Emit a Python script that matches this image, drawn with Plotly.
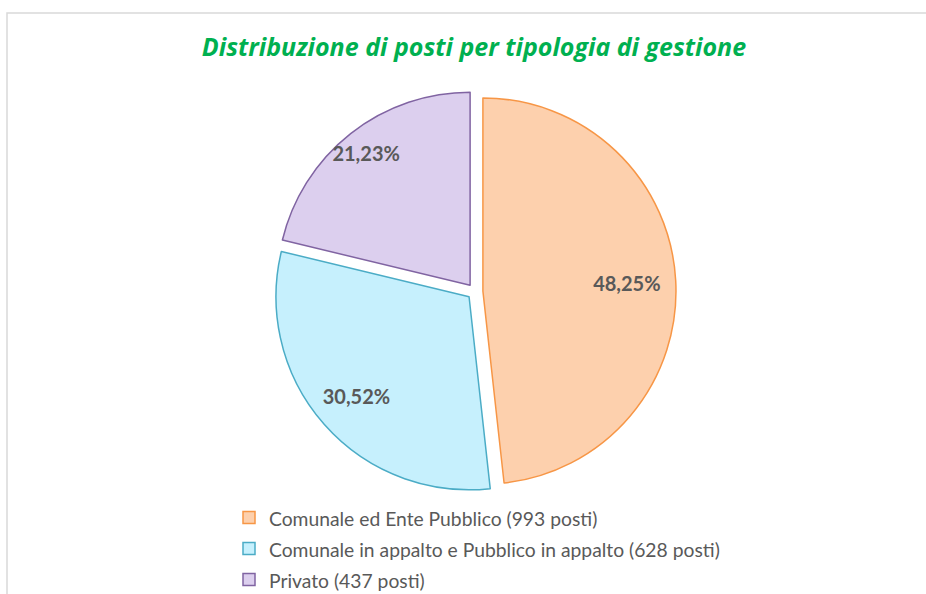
import plotly.graph_objects as go

# data
labels = [
    "Comunale ed Ente Pubblico (993 posti)",
    "Comunale in appalto e Pubblico in appalto (628 posti)",
    "Privato (437 posti)",
]
posti = [993, 628, 437]

fill_cols = ["#fdd0ad", "#c6f0fd", "#dccfee"]
line_cols = ["#f79646", "#4bacc6", "#8064a2"]
label_pull = [0.108, 0.082, 0.086]   # moves the % labels outward, like Excel does

W, H = 926, 594
cx, cy = 475, 291.5          # pie centre, px from top-left

def dom(half):
    return dict(x=[(cx - half) / W, (cx + half) / W],
                y=[(H - cy - half) / H, (H - cy + half) / H])

fig = go.Figure()

# the visible slices
fig.add_trace(go.Pie(
    labels=labels,
    values=posti,
    sort=False,
    direction="clockwise",
    rotation=0,
    pull=0.041,
    textinfo="none",
    marker=dict(colors=fill_cols, line=dict(color=line_cols, width=1.5)),
    domain=dom(201),
    hoverinfo="skip",
))

# a clear, larger pie on top that only carries the percentage labels
fig.add_trace(go.Pie(
    labels=labels,
    values=posti,
    sort=False,
    direction="clockwise",
    rotation=0,
    pull=label_pull,
    texttemplate="%{percent:.2%}",
    textposition="inside",
    insidetextorientation="horizontal",
    textfont=dict(family="Lato", size=20, color="#595959", weight="bold"),
    marker=dict(colors=["rgba(0,0,0,0)"] * 3, line=dict(width=0)),
    domain=dom(250 * (1 + max(label_pull))),
    hoverinfo="skip",
    showlegend=False,
))

# frame round the chart area
fig.add_shape(
    type="rect", xref="paper", yref="paper",
    x0=7 / W, x1=1.02, y0=-0.02, y1=1 - 13 / H,
    line=dict(color="#d9d9d9", width=1.5), fillcolor="rgba(0,0,0,0)",
    layer="below",
)

fig.update_layout(
    width=W, height=H,
    margin=dict(l=0, r=0, t=0, b=0, autoexpand=False),
    paper_bgcolor="white",
    plot_bgcolor="white",
    separators=",.",
    title=dict(
        text="<i><b>Distribuzione di posti per tipologia di gestione</b></i>",
        x=474 / W, xanchor="center",
        y=1 - 47 / H, yanchor="middle",
        font=dict(family="Open Sans", size=25, color="#00b050"),
    ),
    showlegend=True,
    legend=dict(
        x=229 / W, xanchor="left",
        y=1 - 497 / H, yanchor="top",
        orientation="v",
        # big font sets the row spacing, the span sets the drawn size
        font=dict(family="Lato", size=21.5, color="#595959"),
        bgcolor="rgba(0,0,0,0)",
    ),
)
fig.for_each_trace(lambda t: t.update(
    labels=['<span style="font-size:19.3px">%s</span>' % s for s in labels]))

fig.write_html("out.html", config={"displayModeBar": False},
               post_script="document.body.style.margin='0px';")
